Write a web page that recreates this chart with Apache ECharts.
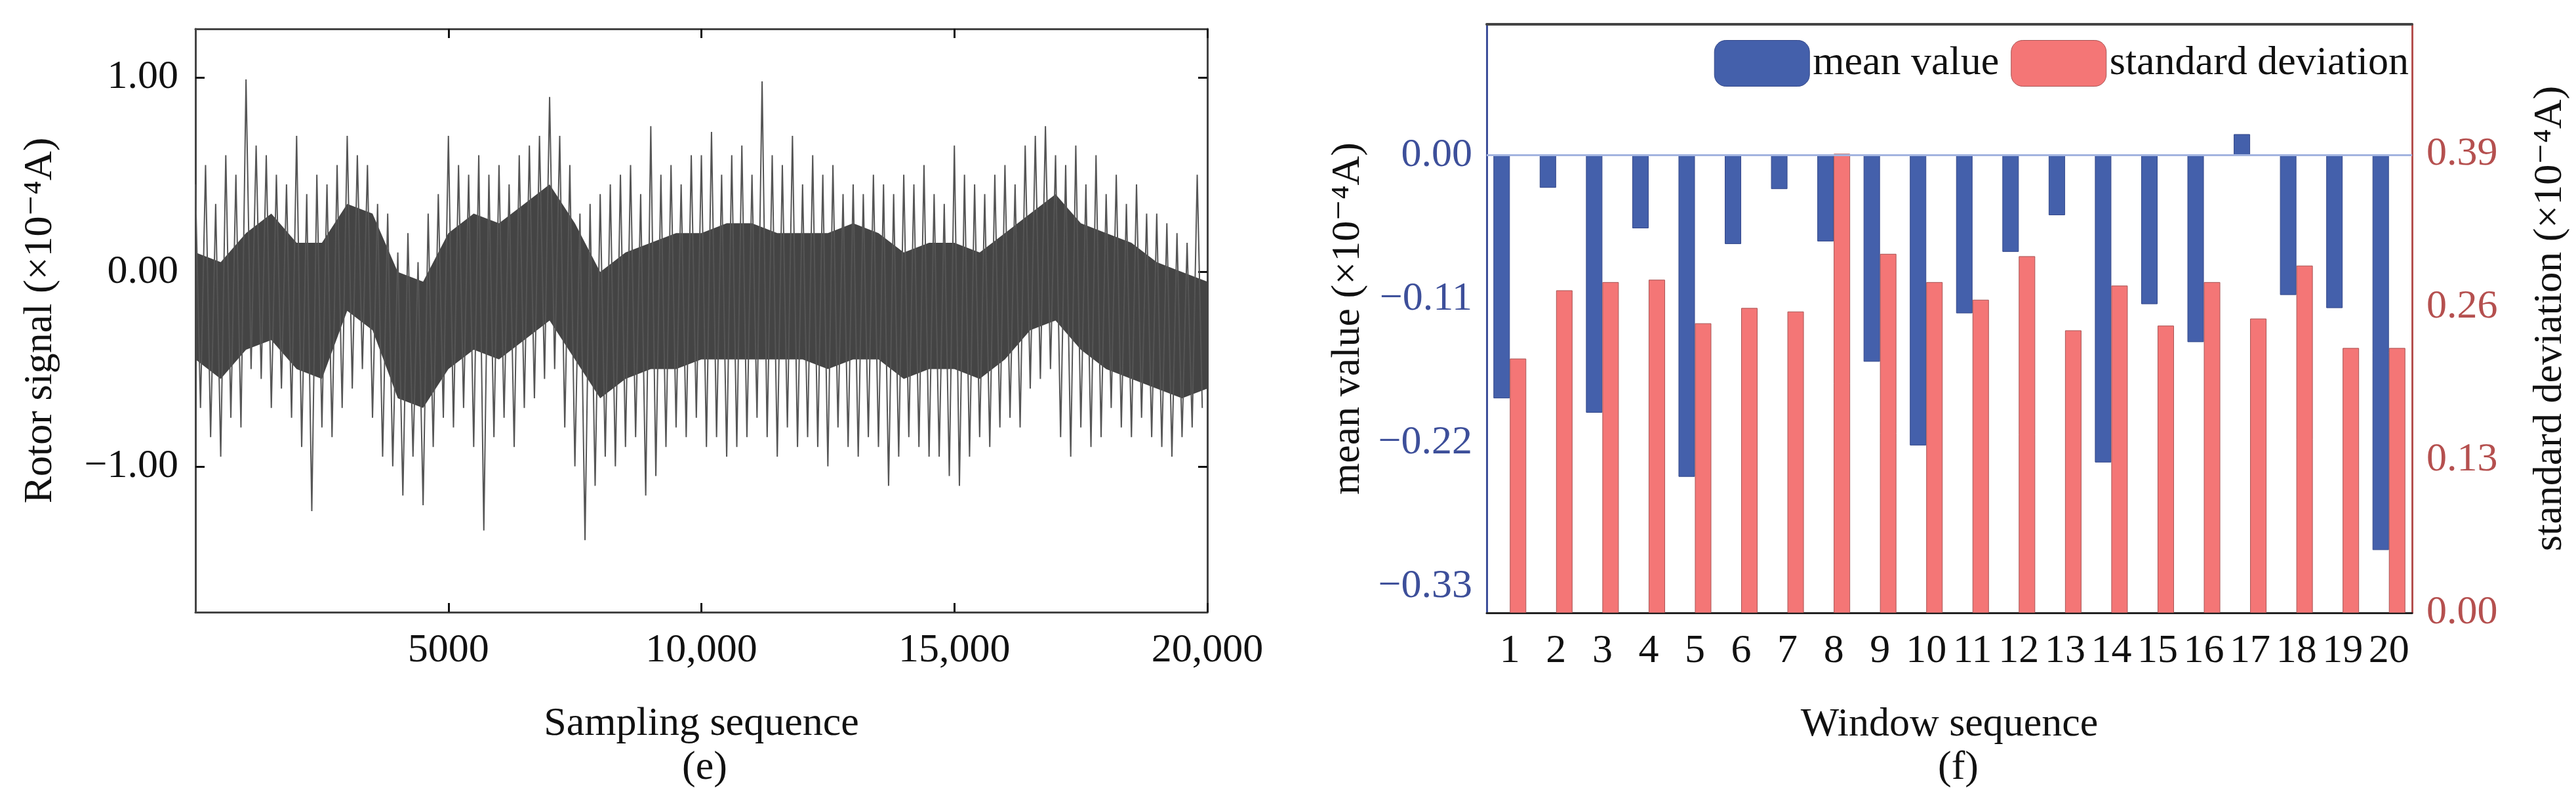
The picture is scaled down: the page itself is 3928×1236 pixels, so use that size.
<!DOCTYPE html>
<html>
<head>
<meta charset="utf-8">
<script src="https://cdn.jsdelivr.net/npm/echarts@6/dist/echarts.min.js"></script>
<style>html,body{margin:0;padding:0;background:#fff}#c{width:3928px;height:1236px}</style>
</head>
<body>
<div id="c"></div>
<script>
// (e) rotor signal, read as peak/trough per 200-sample block
const blockSize = 200;
const signalHi = [
  0.45, 0.55, 0.35, 0.6, 0.5, 0.99, 0.65, 0.6, 0.5, 0.45,
  0.7, 0.4, 0.5, 0.45, 0.55, 0.7, 0.6, 0.55, 0.35, 0.3,
  0.1, 0.2, 0.05, 0.3, 0.4, 0.7, 0.55, 0.5, 0.6, 0.5,
  0.55, 0.45, 0.6, 0.65, 0.7, 0.9, 0.7, 0.55, 0.3, 0.35,
  0.4, 0.45, 0.5, 0.55, 0.4, 0.75, 0.5, 0.55, 0.45, 0.6,
  0.6, 0.72, 0.5, 0.6, 0.65, 0.5, 0.98, 0.6, 0.55, 0.7,
  0.45, 0.6, 0.5, 0.55, 0.4, 0.45, 0.4, 0.5, 0.45, 0.4,
  0.5, 0.45, 0.55, 0.4, 0.35, 0.65, 0.5, 0.45, 0.4, 0.5,
  0.55, 0.45, 0.65, 0.7, 0.75, 0.6, 0.55, 0.65, 0.45, 0.6,
  0.4, 0.5, 0.35, 0.45, 0.3, 0.3, 0.25, 0.2, 0.15, 0.5
];
const signalLo = [
  -0.7, -0.85, -0.95, -0.75, -0.8, -0.5, -0.55, -0.7, -0.6, -0.75,
  -0.9, -1.23, -0.8, -0.85, -0.7, -0.6, -0.5, -0.75, -0.95, -1.0,
  -1.15, -0.95, -1.2, -0.9, -0.75, -0.8, -0.7, -0.9, -1.33, -0.85,
  -0.75, -0.9, -0.7, -0.65, -0.55, -0.5, -0.8, -1.0, -1.38, -1.1,
  -0.95, -1.0, -0.9, -0.85, -1.15, -1.05, -0.9, -0.8, -0.85, -0.75,
  -0.9, -0.85, -0.95, -0.9, -0.85, -0.75, -0.85, -0.95, -0.8, -0.9,
  -0.85, -0.9, -1.0, -0.8, -0.9, -0.95, -0.85, -0.9, -1.1, -0.95,
  -0.85, -0.9, -0.95, -0.95, -1.05, -1.1, -0.95, -0.85, -0.9, -0.8,
  -0.75, -0.8, -0.6, -0.55, -0.5, -0.85, -0.95, -0.8, -0.9, -0.85,
  -0.7, -0.8, -0.85, -0.75, -0.85, -0.9, -0.95, -0.85, -0.8, -0.7
];
// dense core of the signal, per 500 samples
const trendX = [0, 500, 1000, 1500, 2000, 2500, 3000, 3500, 4000, 4500, 5000,
  5500, 6000, 6500, 7000, 7500, 8000, 8500, 9000, 9500, 10000,
  10500, 11000, 11500, 12000, 12500, 13000, 13500, 14000, 14500, 15000,
  15500, 16000, 16500, 17000, 17500, 18000, 18500, 19000, 19500, 20000];
const coreHi = [0.1, 0.05, 0.2, 0.3, 0.15, 0.15, 0.35, 0.3, 0.0, -0.05, 0.2,
  0.3, 0.25, 0.35, 0.45, 0.25, 0.0, 0.1, 0.15, 0.2, 0.2,
  0.25, 0.25, 0.2, 0.2, 0.2, 0.25, 0.2, 0.1, 0.15, 0.15,
  0.1, 0.2, 0.3, 0.4, 0.25, 0.2, 0.15, 0.05, 0.0, -0.05];
const coreLo = [-0.45, -0.55, -0.4, -0.35, -0.5, -0.55, -0.2, -0.3, -0.65, -0.7, -0.5,
  -0.4, -0.45, -0.35, -0.25, -0.45, -0.65, -0.55, -0.5, -0.5, -0.45,
  -0.45, -0.45, -0.45, -0.45, -0.5, -0.45, -0.45, -0.55, -0.5, -0.5,
  -0.55, -0.45, -0.3, -0.25, -0.4, -0.5, -0.55, -0.6, -0.65, -0.6];
const sampleTicks = [5000, 10000, 15000, 20000];
const signalTicks = [-1, 0, 1];

// (f) window statistics
const windows = ['1','2','3','4','5','6','7','8','9','10','11','12','13','14','15','16','17','18','19','20'];
const meanValue = [-0.186, -0.025, -0.197, -0.056, -0.246, -0.068, -0.026, -0.066, -0.158, -0.222,
  -0.121, -0.074, -0.046, -0.235, -0.114, -0.143, 0.016, -0.107, -0.117, -0.302];
const stdDev = [0.216, 0.274, 0.281, 0.283, 0.246, 0.259, 0.256, 0.39, 0.305, 0.281,
  0.266, 0.303, 0.240, 0.278, 0.244, 0.281, 0.250, 0.295, 0.225, 0.225];
const meanTicks = [-0.33, -0.22, -0.11, 0];
const stdTicks = [0, 0.13, 0.26, 0.39];

const FONT = '"Liberation Serif", "DejaVu Serif", serif';
const BLUE = '#4460ab', RED = '#f47676', BLUE_TXT = '#3d4f9a', RED_TXT = '#b5504f';

const signal = [];
for (let i = 0; i < signalHi.length; i++) {
    signal.push([i * blockSize, signalHi[i]]);
    signal.push([i * blockSize + blockSize / 2, signalLo[i]]);
}
const core = trendX.map((x, i) => [x, coreLo[i], coreHi[i]]);

function fmt2(v) {
    const s = Math.abs(v).toFixed(2);
    return v < -1e-9 ? '\u2212' + s : s;
}
function fmtThousand(v) {
    return v >= 10000 ? String(v).replace(/(\d)(?=(\d{3})+$)/g, '$1,') : String(v);
}

const chart = echarts.init(document.getElementById('c'));
const lbl = { fontFamily: FONT, fontSize: 62, color: '#111' };
const inTick = { inside: true, length: 14, lineStyle: { color: '#111', width: 3 } };

chart.setOption({
    animation: false,
    textStyle: { fontFamily: FONT },
    grid: [
        { left: 298, right: 2087, top: 44, bottom: 303 },
        { left: 2267, right: 250, top: 37, bottom: 302 }
    ],
    legend: {
        right: 250, top: 56, itemWidth: 145, itemHeight: 70, itemGap: 18,
        itemStyle: { borderWidth: 1 },
        textStyle: { fontFamily: FONT, fontSize: 62, color: '#111' },
        data: ['mean value', 'standard deviation']
    },
    xAxis: [
        {
            gridIndex: 0, type: 'value', min: 0, max: 20000,
            name: 'Sampling sequence', nameLocation: 'middle', nameGap: 140,
            nameTextStyle: { fontFamily: FONT, fontSize: 62, color: '#111' },
            axisLine: { onZero: false, lineStyle: { color: '#444', width: 3 } },
            axisTick: Object.assign({ customValues: sampleTicks }, inTick),
            axisLabel: Object.assign({ customValues: sampleTicks, margin: 28, formatter: fmtThousand }, lbl),
            splitLine: { show: false }
        },
        {
            gridIndex: 0, type: 'value', min: 0, max: 20000, position: 'top',
            axisLine: { onZero: false, lineStyle: { color: '#444', width: 3 } },
            axisTick: Object.assign({ customValues: sampleTicks }, inTick),
            axisLabel: { show: false }, splitLine: { show: false }
        },
        {
            gridIndex: 1, type: 'category', data: windows,
            name: 'Window sequence', nameLocation: 'middle', nameGap: 140,
            nameTextStyle: { fontFamily: FONT, fontSize: 62, color: '#111' },
            axisLine: { onZero: false, lineStyle: { color: '#222', width: 3 } },
            axisTick: { show: false },
            axisLabel: Object.assign({ margin: 28, interval: 0 }, lbl)
        },
        {
            gridIndex: 1, type: 'category', data: windows, position: 'top',
            axisLine: { onZero: false, lineStyle: { color: '#444', width: 4 } },
            axisTick: { inside: true, alignWithLabel: true, length: 22, lineStyle: { color: '#111', width: 3 } },
            axisLabel: { show: false }
        }
    ],
    yAxis: [
        {
            gridIndex: 0, type: 'value', min: -1.75, max: 1.25,
            name: 'Rotor signal (\u00d710\u207b\u2074A)', nameLocation: 'middle', nameGap: 205,
            nameTextStyle: { fontFamily: FONT, fontSize: 62, color: '#111' },
            axisLine: { show: true, onZero: false, lineStyle: { color: '#444', width: 3 } },
            axisTick: Object.assign({ customValues: signalTicks }, inTick),
            axisLabel: Object.assign({ customValues: signalTicks, margin: 26, formatter: fmt2 }, lbl),
            splitLine: { show: false }
        },
        {
            gridIndex: 0, type: 'value', min: -1.75, max: 1.25, position: 'right',
            axisLine: { show: true, onZero: false, lineStyle: { color: '#444', width: 3 } },
            axisTick: Object.assign({ customValues: signalTicks }, inTick),
            axisLabel: { show: false }, splitLine: { show: false }
        },
        {
            gridIndex: 1, type: 'value', min: -0.35, max: 0.1,
            name: 'mean value (\u00d710\u207b\u2074A)', nameLocation: 'middle', nameGap: 180,
            nameTextStyle: { fontFamily: FONT, fontSize: 62, color: '#111' },
            axisLine: { show: true, onZero: false, lineStyle: { color: BLUE_TXT, width: 3 } },
            axisTick: { customValues: meanTicks, inside: false, length: 12, lineStyle: { color: BLUE_TXT, width: 3 } },
            axisLabel: Object.assign({}, lbl, { customValues: meanTicks, margin: 22, formatter: fmt2, color: BLUE_TXT }),
            splitLine: { show: false }
        },
        {
            gridIndex: 1, type: 'value', min: 0, max: 0.5, position: 'right',
            name: 'standard deviation (\u00d710\u207b\u2074A)', nameLocation: 'middle', nameGap: 180,
            nameRotate: 90,
            nameTextStyle: { fontFamily: FONT, fontSize: 62, color: '#111' },
            axisLine: { show: true, onZero: false, lineStyle: { color: RED_TXT, width: 3 } },
            axisTick: { customValues: stdTicks, inside: false, length: 12, lineStyle: { color: RED_TXT, width: 3 } },
            axisLabel: Object.assign({}, lbl, { customValues: stdTicks, margin: 22, formatter: fmt2, color: RED_TXT }),
            splitLine: { show: false }
        }
    ],
    series: [
        {
            type: 'custom', xAxisIndex: 0, yAxisIndex: 0, data: core, silent: true,
            renderItem: function (params, api) {
                if (params.dataIndex !== 0) return;
                const top = core.map(d => api.coord([d[0], d[2]]));
                const bot = core.map(d => api.coord([d[0], d[1]])).reverse();
                return { type: 'polygon', shape: { points: top.concat(bot) }, style: { fill: '#444' } };
            }
        },
        {
            type: 'line', xAxisIndex: 0, yAxisIndex: 0, data: signal,
            symbol: 'none', lineStyle: { color: '#555', width: 2 }, silent: true
        },
        {
            name: 'mean value', type: 'bar', xAxisIndex: 2, yAxisIndex: 2, data: meanValue,
            barWidth: 25, barGap: '0%',
            itemStyle: { color: BLUE, borderColor: '#34488a', borderWidth: 1 },
            markLine: {
                silent: true, symbol: 'none', label: { show: false },
                lineStyle: { color: '#a3b4e0', width: 3, type: 'solid' },
                data: [{ yAxis: 0 }]
            }
        },
        {
            name: 'standard deviation', type: 'bar', xAxisIndex: 2, yAxisIndex: 3, data: stdDev,
            barWidth: 25,
            itemStyle: { color: RED, borderColor: '#a85555', borderWidth: 1 }
        }
    ],
    graphic: [
        { type: 'text', left: 1040, top: 1140, style: { text: '(e)', font: '62px ' + FONT, fill: '#111' } },
        { type: 'text', left: 2955, top: 1140, style: { text: '(f)', font: '62px ' + FONT, fill: '#111' } }
    ]
});
</script>
</body>
</html>
